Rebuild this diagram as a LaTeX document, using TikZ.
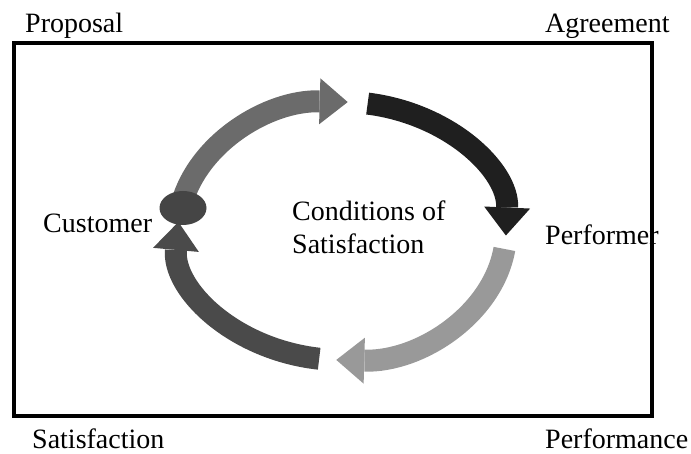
\documentclass[tikz,border=0pt]{standalone}
\usepackage{fontspec}
\setmainfont{Liberation Serif}
\usetikzlibrary{arrows.meta,shapes.geometric}
\tikzset{
  ringarrow/.style={line width=22pt,-{Triangle[width=46pt,length=28pt,line width=0pt]}},
  lbl/.style={font=\fontsize{28}{33}\selectfont,inner sep=0pt}
}
\begin{document}
\begin{tikzpicture}[x=1pt,y=1pt]
\useasboundingbox (0,0) rectangle (691,454);
\coordinate (ctr) at (342,223);
\coordinate (a1) at ([shift={(168:164 and 129)}]ctr);
\coordinate (a2) at ([shift={(81:164 and 129)}]ctr);
\coordinate (a3) at ([shift={(-8:164 and 129)}]ctr);
\coordinate (a4) at ([shift={(262:164 and 129)}]ctr);
\draw[ringarrow,black!58] (a1) arc[start angle=168,end angle=88,x radius=164,y radius=129];
\draw[ringarrow,black!88] (a2) arc[start angle=81,end angle=-2,x radius=164,y radius=129];
\draw[ringarrow,black!40] (a3) arc[start angle=-8,end angle=-92,x radius=164,y radius=129];
\draw[ringarrow,black!71] (a4) arc[start angle=262,end angle=176,x radius=164,y radius=129];
\node (dot) at (183,246) [ellipse,fill=black!73,minimum width=47pt,minimum height=34pt,inner sep=0pt] {};
\node (prop) at (25,421) [lbl,anchor=base west] {Proposal};
\node (agr) at (545,421) [lbl,anchor=base west] {Agreement};
\node (cust) at (43,221) [lbl,anchor=base west] {Customer};
\node (perf) at (545,209) [lbl,anchor=base west] {Performer};
\node (cos) at (292,253) [lbl,anchor=north west,align=left] {Conditions of\\Satisfaction};
\node (satis) at (32,5) [lbl,anchor=base west] {Satisfaction};
\node (perfm) at (545,5) [lbl,anchor=base west] {Performance};
\draw[line width=4pt] (14,38) rectangle (652,411);
\end{tikzpicture}
\end{document}
